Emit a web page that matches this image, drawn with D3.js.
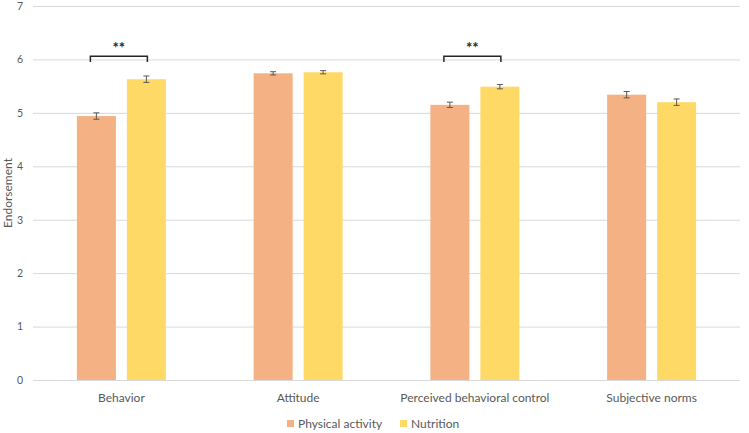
<!DOCTYPE html>
<html>
<head>
<meta charset="utf-8">
<script src="https://cdn.jsdelivr.net/npm/d3@7"></script>
<style>
  body { margin: 0; background: #fff; }
  text { font-family: Lato, "Open Sans", sans-serif; fill: #595959; }
</style>
</head>
<body>
<div id="chart"></div>
<script>
var categories = ["Behavior", "Attitude", "Perceived behavioral control", "Subjective norms"];
var series = ["Physical activity", "Nutrition"];
var physicalValues = [4.94, 5.74, 5.15, 5.34];
var physicalErrors = [0.06, 0.03, 0.05, 0.06];
var nutritionValues = [5.63, 5.76, 5.49, 5.20];
var nutritionErrors = [0.06, 0.03, 0.04, 0.06];
var yTicks = [0, 1, 2, 3, 4, 5, 6, 7];
// significance brackets: category index + label
var significance = [{cat: 0, label: "**"}, {cat: 2, label: "**"}];

var colors = {"Physical activity": "#F4B183", "Nutrition": "#FFD966"};

var width = 749, height = 433,
    margins = {top: 6, bottom: 53, left: 33, right: 9};

var svg = d3.select("#chart").append("svg")
    .attr("width", width)
    .attr("height", height);

var x0 = d3.scaleBand()
    .domain(categories)
    .range([margins.left, width - margins.right]);

var bw0 = x0.bandwidth();
var x1 = d3.scaleBand()
    .domain(series)
    .range([bw0 / 2 - 50, bw0 / 2 + 50])
    .paddingInner(0.22)
    .paddingOuter(0.11);

var y = d3.scaleLinear()
    .domain([0, 7])
    .range([height - margins.bottom, margins.top]);

/* Grid lines */
var yAxis = d3.axisLeft(y)
    .tickValues(yTicks)
    .tickFormat(d3.format("d"))
    .tickSize(-(width - margins.left - margins.right))
    .tickPadding(10);

var gy = svg.append("g")
    .attr("transform", "translate(" + margins.left + ",0)")
    .call(yAxis);
gy.select(".domain").remove();
gy.selectAll(".tick line").attr("stroke", "#D9D9D9").attr("stroke-width", 1);
gy.selectAll(".tick text").attr("font-size", 10.5).style("fill", "#595959");

/* Data rows */
var rows = categories.map(function(c, i){
    return [
        {cat: c, s: series[0], v: physicalValues[i], e: physicalErrors[i]},
        {cat: c, s: series[1], v: nutritionValues[i], e: nutritionErrors[i]}
    ];
});

var groups = svg.selectAll(".group")
    .data(rows)
    .enter()
    .append("g")
        .attr("class", "group")
        .attr("transform", function(d){ return "translate(" + x0(d[0].cat) + ",0)"; });

groups.selectAll("rect")
    .data(function(d){ return d; })
    .enter()
    .append("rect")
        .attr("x", function(d){ return x1(d.s); })
        .attr("width", x1.bandwidth())
        .attr("y", function(d){ return y(d.v); })
        .attr("height", function(d){ return y(0) - y(d.v); })
        .attr("fill", function(d){ return colors[d.s]; });

/* Error bars */
var err = groups.selectAll(".err")
    .data(function(d){ return d; })
    .enter()
    .append("g")
        .attr("class", "err")
        .attr("stroke", "#595959")
        .attr("stroke-width", 1);
err.append("line")
    .attr("x1", function(d){ return x1(d.s) + x1.bandwidth() / 2; })
    .attr("x2", function(d){ return x1(d.s) + x1.bandwidth() / 2; })
    .attr("y1", function(d){ return y(d.v + d.e); })
    .attr("y2", function(d){ return y(d.v - d.e); });
[1, -1].forEach(function(sign){
    err.append("line")
        .attr("x1", function(d){ return x1(d.s) + x1.bandwidth() / 2 - 3; })
        .attr("x2", function(d){ return x1(d.s) + x1.bandwidth() / 2 + 3; })
        .attr("y1", function(d){ return y(d.v + sign * d.e); })
        .attr("y2", function(d){ return y(d.v + sign * d.e); });
});

/* Significance brackets */
significance.forEach(function(s){
    var cx = x0(categories[s.cat]);
    var left = cx + x1(series[0]) + x1.bandwidth() / 2 - 6;
    var right = cx + x1(series[1]) + x1.bandwidth() / 2 + 1;
    var top = y(6.06), foot = y(5.95);
    svg.append("path")
        .attr("d", "M" + left + "," + foot + "V" + top + "H" + right + "V" + foot)
        .attr("fill", "none")
        .attr("stroke", "#262626")
        .attr("stroke-width", 1.5);
    svg.append("text")
        .attr("x", (left + right) / 2)
        .attr("y", top - 3)
        .attr("text-anchor", "middle")
        .attr("font-size", 15)
        .attr("font-weight", "bold")
        .style("fill", "#262626")
        .text(s.label);
});

/* X labels */
svg.selectAll(".xlabel")
    .data(categories)
    .enter()
    .append("text")
        .attr("class", "xlabel")
        .attr("x", function(d){ return x0(d) + bw0 / 2; })
        .attr("y", 402)
        .attr("text-anchor", "middle")
        .attr("font-size", 12)
        .text(function(d){ return d; });

/* Y title */
svg.append("text")
    .attr("transform", "translate(12," + ((margins.top + y(0)) / 2) + ") rotate(-90)")
    .attr("text-anchor", "middle")
    .attr("font-size", 12)
    .text("Endorsement");

/* Legend */
var legendX = [287, 400];
var legend = svg.selectAll(".legend")
    .data(series)
    .enter()
    .append("g")
        .attr("class", "legend")
        .attr("transform", function(d, i){ return "translate(" + legendX[i] + ",420)"; });
legend.append("rect")
    .attr("width", 7).attr("height", 7)
    .attr("fill", function(d){ return colors[d]; });
legend.append("text")
    .attr("x", 11)
    .attr("y", 7.5)
    .attr("font-size", 12)
    .text(function(d){ return d; });
</script>
</body>
</html>
